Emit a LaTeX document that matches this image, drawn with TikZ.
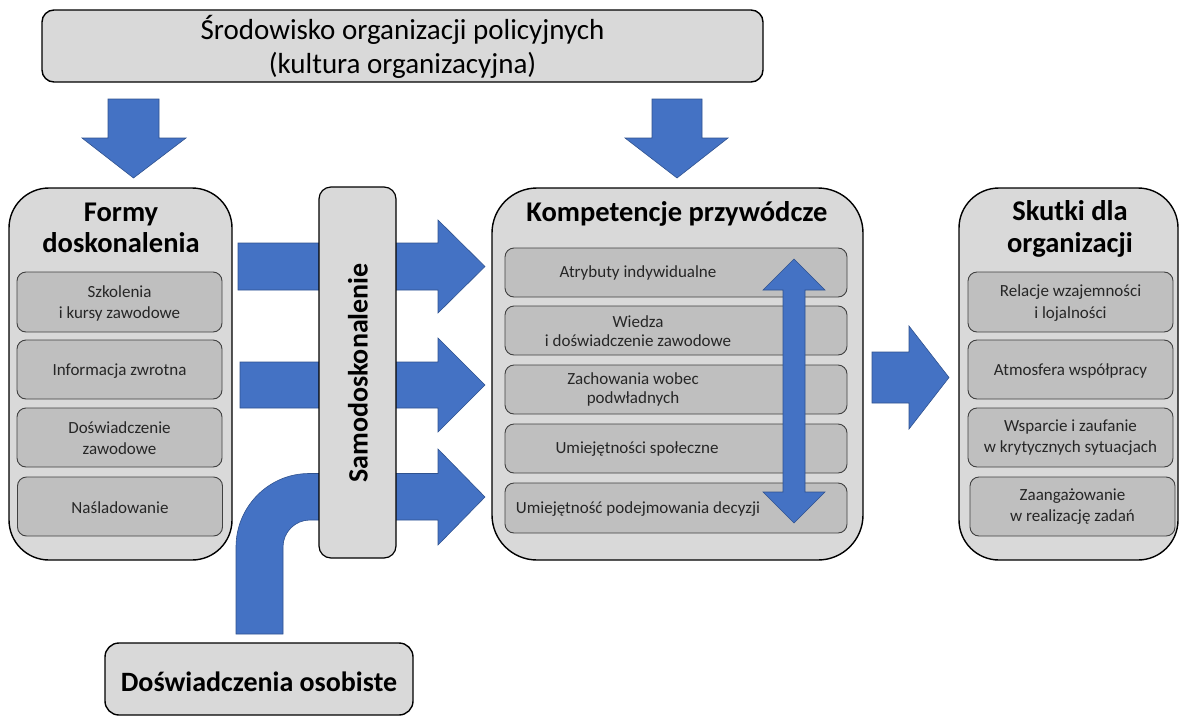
\documentclass[tikz,border=0pt]{standalone}
\usepackage{fontspec}
\setmainfont{Carlito}
\definecolor{outerfill}{HTML}{D9D9D9}
\definecolor{innerfill}{HTML}{BFBFBF}
\definecolor{innerline}{HTML}{404040}
\definecolor{arrowblue}{HTML}{4472C4}
\definecolor{arrowedge}{HTML}{2F528F}
\begin{document}
\begin{tikzpicture}[x=1pt,y=-1pt,
  outerbox/.style={draw=black, line width=1.4pt, fill=outerfill, inner sep=0pt},
  innerbox/.style={draw=innerline, line width=0.9pt, fill=innerfill, rounded corners=9pt, inner sep=0pt},
  itext/.style={align=center, inner sep=0pt, font=\fontsize{17}{21}\selectfont, text=black!85},
  ktext/.style={align=center, inner sep=0pt, font=\fontsize{17}{19}\selectfont, text=black!85},
  title/.style={align=center, inner sep=0pt, font=\fontsize{28.5}{31.5}\selectfont\bfseries},
  blockarrow/.style={fill=arrowblue, draw=arrowedge, line width=0.6pt, line join=miter}
]
\useasboundingbox (0,0) rectangle (1180,715);

% ---------- outer boxes ----------
\node[outerbox, rounded corners=12pt, minimum width=721pt, minimum height=72pt] (env) at (402.5,46) {};
\node[align=center, inner sep=0pt, font=\fontsize{29}{34}\selectfont] (envtext) at (402.5,47) {Środowisko organizacji policyjnych\\(kultura organizacyjna)};

\node[outerbox, rounded corners=40pt, minimum width=223pt, minimum height=372pt] (formy) at (120.5,374) {};
\node[title] (formyt) at (121,228) {Formy\\doskonalenia};

\node[outerbox, rounded corners=45pt, minimum width=371pt, minimum height=372pt] (komp) at (677.5,374) {};
\node[title] (kompt) at (677,214) {Kompetencje przywódcze};

\node[outerbox, rounded corners=40pt, minimum width=219pt, minimum height=372pt] (skutki) at (1068.5,374) {};
\node[title] (skutkit) at (1070,229) {Skutki dla\\organizacji};

\node[outerbox, rounded corners=14pt, minimum width=308pt, minimum height=72pt] (dosw) at (259,679) {};
\node[title, font=\fontsize{28}{30}\selectfont\bfseries] (doswt) at (259,682) {Doświadczenia osobiste};

% ---------- Formy inner ----------
\node[innerbox, minimum width=205pt, minimum height=60pt] (f1) at (119.5,302) {};
\node[itext] (f1t) at (119.5,303) {Szkolenia\\i kursy zawodowe};
\node[innerbox, minimum width=205pt, minimum height=59pt] (f2) at (119.5,369.5) {};
\node[itext] (f2t) at (119.5,371) {Informacja zwrotna};
\node[innerbox, minimum width=205pt, minimum height=59pt] (f3) at (119.5,437.5) {};
\node[itext] (f3t) at (119.5,438) {Doświadczenie\\zawodowe};
\node[innerbox, minimum width=205pt, minimum height=59pt] (f4) at (120,506.5) {};
\node[itext] (f4t) at (120,508) {Naśladowanie};

% ---------- Kompetencje inner ----------
\node[innerbox, minimum width=342pt, minimum height=49pt] (k1) at (676,272.5) {};
\node[ktext] (k1t) at (638,273) {Atrybuty indywidualne};
\node[innerbox, minimum width=342pt, minimum height=49pt] (k2) at (676,330.5) {};
\node[ktext] (k2t) at (638,331) {Wiedza\\i doświadczenie zawodowe};
\node[innerbox, minimum width=342pt, minimum height=49pt] (k3) at (676,389.5) {};
\node[ktext] (k3t) at (633,389) {Zachowania wobec\\podwładnych};
\node[innerbox, minimum width=342pt, minimum height=49pt] (k4) at (676,448.5) {};
\node[ktext] (k4t) at (637,449) {Umiejętności społeczne};
\node[innerbox, minimum width=342pt, minimum height=50pt] (k5) at (676,508) {};
\node[ktext] (k5t) at (638,509) {Umiejętność podejmowania decyzji};

% ---------- Skutki inner ----------
\node[innerbox, minimum width=205pt, minimum height=60pt] (s1) at (1070.5,302) {};
\node[itext, font=\fontsize{17}{22}\selectfont] (s1t) at (1070.5,303) {Relacje wzajemności\\i lojalności};
\node[innerbox, minimum width=205pt, minimum height=59pt] (s2) at (1070.5,369.5) {};
\node[itext] (s2t) at (1070.5,371) {Atmosfera współpracy};
\node[innerbox, minimum width=205pt, minimum height=59pt] (s3) at (1070.5,437.5) {};
\node[itext] (s3t) at (1070.5,438) {Wsparcie i zaufanie\\w krytycznych sytuacjach};
\node[innerbox, minimum width=205pt, minimum height=59pt] (s4) at (1072.5,506.5) {};
\node[itext] (s4t) at (1072.5,507) {Zaangażowanie\\w realizację zadań};

% ---------- block arrows ----------
\draw[blockarrow] (108,99) -- (159,99) -- (159,138) -- (186,138) -- (133.5,178) -- (82,138) -- (108,138) -- cycle;
\draw[blockarrow] (652,99) -- (702,99) -- (702,138) -- (728,138) -- (677,178) -- (625,138) -- (652,138) -- cycle;

\draw[blockarrow] (238,243) -- (438,243) -- (438,220) -- (485,266.5) -- (438,313) -- (438,290) -- (238,290) -- cycle;
\draw[blockarrow] (240,362) -- (438,362) -- (438,338) -- (485,385) -- (438,432) -- (438,408) -- (240,408) -- cycle;
\draw[blockarrow] (236,634) -- (236,547) .. controls (236,506.7) and (268.7,473.5) .. (309,473.5)
  -- (438,473.5) -- (438,449) -- (485,497) -- (438,545) -- (438,520)
  -- (310,520) .. controls (295.1,520) and (283,532.1) .. (283,547) -- (283,634) -- cycle;

% ---------- Samodoskonalenie ----------
\node[outerbox, line width=1.2pt, rounded corners=12pt, minimum width=77pt, minimum height=371pt] (samo) at (357.5,372.5) {};
\node[rotate=90, inner sep=0pt, font=\fontsize{28}{30}\selectfont\bfseries] (samot) at (358,373) {Samodoskonalenie};

% ---------- double arrow and right arrow ----------
\draw[blockarrow] (794,259) -- (825,290) -- (805,290) -- (805,492) -- (825,492) -- (794,523) -- (763,492) -- (783,492) -- (783,290) -- (763,290) -- cycle;
\draw[blockarrow] (872,352) -- (909,352) -- (909,326) -- (949,377.5) -- (909,429) -- (909,403) -- (872,403) -- cycle;
\end{tikzpicture}
\end{document}
